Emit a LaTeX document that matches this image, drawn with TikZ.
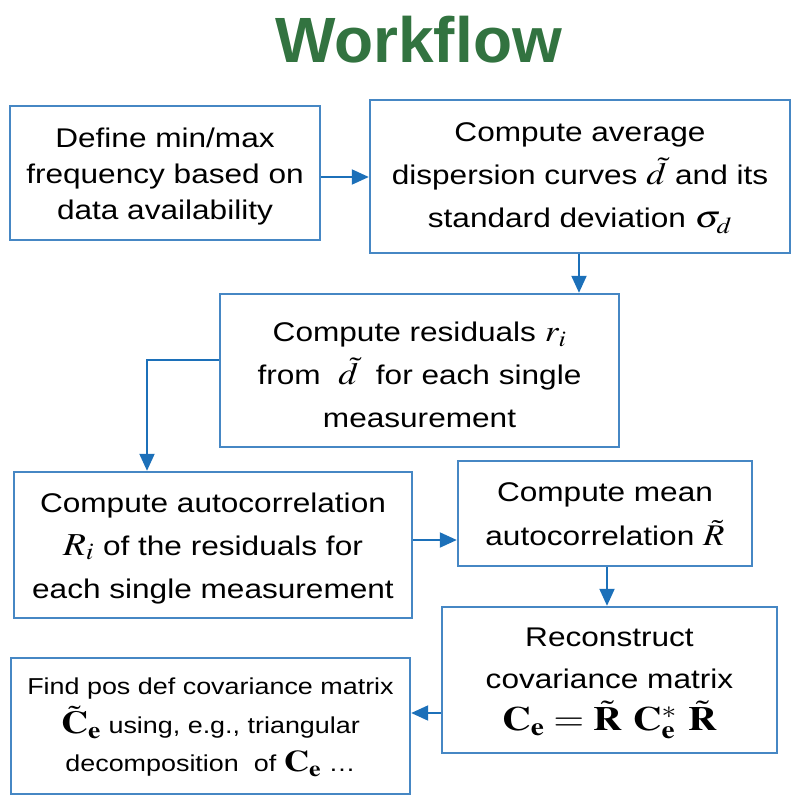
\documentclass[tikz,border=0pt]{standalone}
\usepackage{mathptmx}
\usepackage[no-math]{fontspec}
\setmainfont{Liberation Sans}
\usepackage{graphicx}
\usetikzlibrary{arrows.meta}
\definecolor{boxblue}{RGB}{70,135,196}
\definecolor{arrblue}{RGB}{28,112,185}
\definecolor{titlegreen}{RGB}{50,115,64}
\newcommand{\boxtext}[3]{\scalebox{1.17}[1]{\fontsize{#1}{#2}\selectfont\begin{tabular}{@{}c@{}}#3\end{tabular}}}
\newcommand{\mth}[2]{{\fontsize{#1}{#1}\selectfont$#2$}}
\tikzset{
  flowbox/.style={draw=boxblue, line width=2.4pt, rectangle, inner sep=0pt},
  boxlabel/.style={inner sep=0pt, text=black},
  arr/.style={draw=arrblue, line width=2pt, -{Triangle[length=17pt,width=15pt]}},
}
\begin{document}
\begin{tikzpicture}[x=1pt,y=-1pt]
\useasboundingbox (0,0) rectangle (795,799);
% title
\node[anchor=base, text=titlegreen, font=\fontsize{64}{70}\selectfont\bfseries] (title) at (418.5,63) {Workflow};
% boxes
\node[flowbox, minimum width=310pt, minimum height=134pt] (b1) at (165,173) {};
\node[flowbox, minimum width=420pt, minimum height=153pt] (b2) at (580,176.5) {};
\node[flowbox, minimum width=399pt, minimum height=153pt] (b3) at (419.5,370.5) {};
\node[flowbox, minimum width=398pt, minimum height=146pt] (b4) at (213,545) {};
\node[flowbox, minimum width=294pt, minimum height=105pt] (b5) at (605,513.5) {};
\node[flowbox, minimum width=335pt, minimum height=146pt] (b6) at (609.5,680) {};
\node[flowbox, minimum width=399pt, minimum height=136pt] (b7) at (210.5,726) {};
% texts
\node[boxlabel] (t1) at (165,176.8) {\boxtext{27}{36}{Define min/max\\frequency based on\\data availability}};
\node[boxlabel] (t2) at (580,176.3) {\boxtext{27}{43}{Compute average\\dispersion curves \mth{31}{\tilde{d}} and its\\standard deviation \mth{31}{\sigma_d}}};
\node[boxlabel] (t3) at (419.5,376) {\boxtext{27}{43}{Compute residuals \mth{30}{r_i}\\from \ \mth{31}{\tilde{d}} \ for each single\\measurement}};
\node[boxlabel] (t4) at (213,546.5) {\boxtext{27}{43}{Compute autocorrelation\\\mth{32}{R_i} of the residuals for\\each single measurement}};
\node[boxlabel] (t5) at (605,514.5) {\boxtext{27}{44}{Compute mean\\autocorrelation \mth{30}{\tilde{R}}}};
\node[boxlabel] (t6) at (609.5,680) {\boxtext{27}{42}{Reconstruct\\covariance matrix\\\mth{34}{\mathbf{C}_{\mathbf{e}} = \tilde{\mathbf{R}}\ \mathbf{C}^{*}_{\mathbf{e}}\ \tilde{\mathbf{R}}}}};
\node[boxlabel] (t7) at (210.5,725.7) {\boxtext{23}{38}{Find pos def covariance matrix\\\mth{32}{\tilde{\mathbf{C}}_{\mathbf{e}}} using, e.g., triangular\\decomposition \ of \mth{30}{\mathbf{C}_{\mathbf{e}}} …}};
% connectors
\coordinate (a12) at (0,177);
\coordinate (a23) at (579,0);
\coordinate (k34) at (147,360);
\coordinate (a45) at (0,540);
\coordinate (a56) at (607,0);
\coordinate (a67) at (0,713);
\draw[arr] (b1.east |- a12) -- (b2.west |- a12);
\draw[arr] (a23 |- b2.south) -- (a23 |- b3.north);
\draw[arr] (b3.west |- k34) -- (k34) -- (k34 |- b4.north);
\draw[arr] (b4.east |- a45) -- (b5.west |- a45);
\draw[arr] (a56 |- b5.south) -- (a56 |- b6.north);
\draw[arr] (b6.west |- a67) -- (b7.east |- a67);
\end{tikzpicture}
\end{document}
